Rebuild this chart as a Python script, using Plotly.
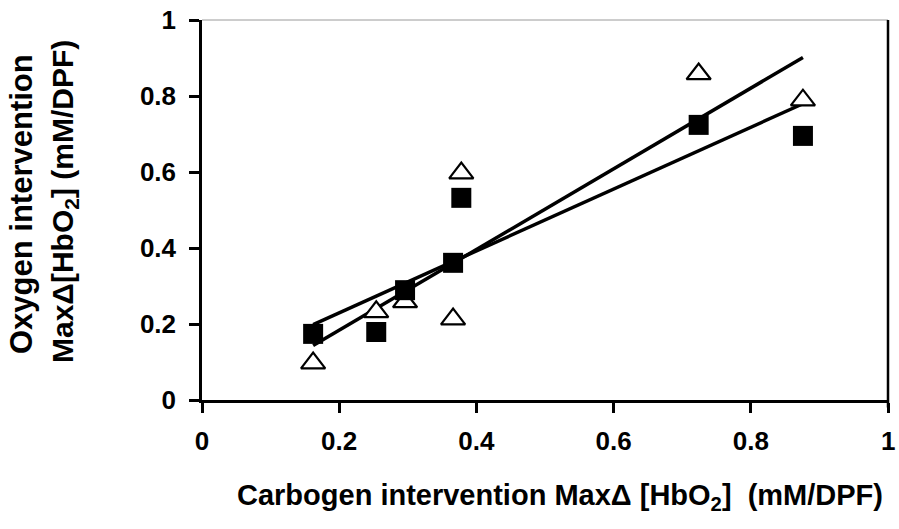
import numpy as np
import plotly.graph_objects as go

# Carbogen intervention MaxΔ[HbO2] (x) for each subject
carbogen_x = [0.162, 0.254, 0.296, 0.366, 0.378, 0.724, 0.876]
# Oxygen intervention MaxΔ[HbO2] – open triangles
oxygen_tri = [0.097, 0.232, 0.258, 0.213, 0.597, 0.858, 0.789]
# Oxygen intervention MaxΔ[HbO2] – filled squares
oxygen_sq = [0.174, 0.179, 0.289, 0.361, 0.532, 0.724, 0.695]

x_ticks = [0, 0.2, 0.4, 0.6, 0.8, 1]
y_ticks = [0, 0.2, 0.4, 0.6, 0.8, 1]
tick_text = ["0", "0.2", "0.4", "0.6", "0.8", "1"]

FONT = "Liberation Sans, Arial"

x = np.array(carbogen_x)
xs = np.array([x.min(), x.max()])


def fit(yv):
    m, c = np.polyfit(x, np.array(yv), 1)
    return m * xs + c


fig = go.Figure()
fig.add_trace(go.Scatter(x=xs, y=fit(oxygen_tri), mode="lines",
                         line=dict(color="black", width=3.5), showlegend=False))
fig.add_trace(go.Scatter(x=xs, y=fit(oxygen_sq), mode="lines",
                         line=dict(color="black", width=3.5), showlegend=False))
fig.add_trace(go.Scatter(x=carbogen_x, y=oxygen_tri, mode="markers",
                         marker=dict(symbol="triangle-up", size=21, color="white",
                                     line=dict(color="black", width=2.2)),
                         showlegend=False))
fig.add_trace(go.Scatter(x=carbogen_x, y=oxygen_sq, mode="markers",
                         marker=dict(symbol="square", size=20, color="black",
                                     line=dict(color="black", width=0)),
                         showlegend=False))

tickfont = dict(family=FONT, size=26, color="black", weight="bold")

# the last x tick label sits on the right edge of the page: drawn as an annotation
x_ticktext = tick_text[:-1] + [""]

fig.update_layout(
    width=899, height=529,
    margin=dict(l=202, r=11, t=20, b=129),
    paper_bgcolor="white", plot_bgcolor="white",
    font=dict(family=FONT, color="black", size=24),
    xaxis=dict(range=[0, 1], tickvals=x_ticks, ticktext=x_ticktext,
               ticks="outside", ticklen=10, tickwidth=2.5, tickcolor="black",
               showline=True, linewidth=2.5, linecolor="black",
               showgrid=False, zeroline=False, tickfont=tickfont,
               automargin=False, ticklabelstandoff=6),
    yaxis=dict(range=[0, 1], tickvals=y_ticks, ticktext=tick_text,
               ticks="outside", ticklen=10, tickwidth=2.5, tickcolor="black",
               showline=True, linewidth=2.5, linecolor="black",
               showgrid=False, zeroline=False, tickfont=tickfont,
               automargin=False, ticklabelstandoff=8),
)

# faint top frame line and right frame line
fig.add_shape(type="line", xref="paper", yref="paper", x0=0, x1=1, y0=1, y1=1,
              line=dict(color="#9a9a9a", width=1))
fig.add_shape(type="line", xref="paper", yref="paper", x0=1, x1=1, y0=-0.02, y1=1,
              line=dict(color="black", width=2.5))

fig.add_annotation(text=tick_text[-1], xref="x", yref="paper",
                   x=x_ticks[-1], y=-(441 - 400) / 380, showarrow=False,
                   xanchor="center", yanchor="middle",
                   font=tickfont)
fig.add_annotation(text="Carbogen intervention MaxΔ [HbO<sub>2</sub>]  (mM/DPF)",
                   xref="paper", yref="paper",
                   x=(560 - 202) / 686, y=-(497 - 400) / 380, showarrow=False,
                   xanchor="center", yanchor="middle",
                   font=dict(family=FONT, size=29, color="black", weight="bold"))
fig.add_annotation(text="Oxygen intervention", xref="paper", yref="paper",
                   x=(22 - 202) / 686, y=(400 - 204) / 380, textangle=-90, showarrow=False,
                   xanchor="center", yanchor="middle",
                   font=dict(family=FONT, size=31, color="black", weight="bold"))
fig.add_annotation(text="MaxΔ[HbO<sub>2</sub>] (mM/DPF)", xref="paper", yref="paper",
                   x=(64 - 202) / 686, y=(400 - 202) / 380, textangle=-90, showarrow=False,
                   xanchor="center", yanchor="middle",
                   font=dict(family=FONT, size=30, color="black", weight="bold"))

fig.write_html("out.html",
               config={"displayModeBar": False},
               post_script="document.body.style.margin='0';"
                           "document.body.style.overflow='hidden';")
